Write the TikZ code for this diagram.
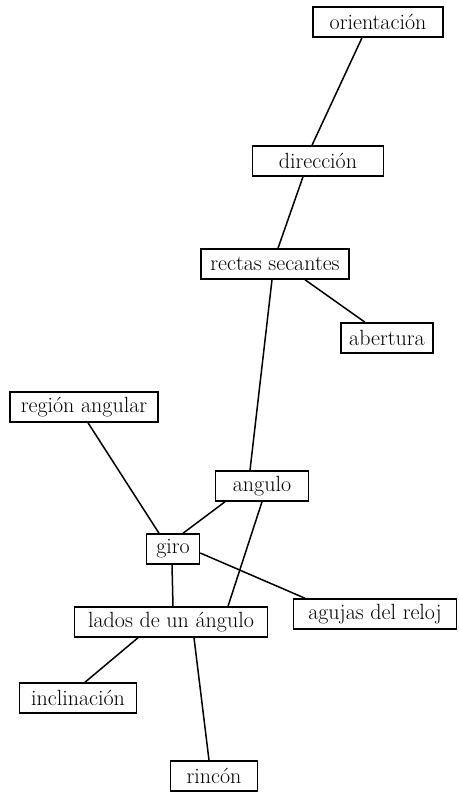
\documentclass[tikz,border=0pt]{standalone}
\usepackage{tikz}

\tikzset{
  concepto/.style={draw, line width=1.5pt, minimum height=30pt, inner xsep=8pt,
    font=\fontsize{22}{25}\selectfont},
  enlace/.style={line width=1.5pt}
}

\begin{document}
\begin{tikzpicture}[x=1pt,y=-1pt]

            \useasboundingbox (0,0) rectangle (458,792);

            % conceptos
            \node[concepto, minimum width=130pt] (orient) at (378,22) {orientación};
            \node[concepto, minimum width=131pt] (direc) at (318,161) {dirección};
            \node[concepto, minimum width=148pt] (rectas) at (275,264) {rectas secantes};
            \node[concepto, minimum width=86pt] (abert) at (387,338) {abertura};
            \node[concepto, minimum width=148pt] (region) at (84,407) {región angular};
            \node[concepto, minimum width=93pt] (angulo) at (262,486) {angulo};
            \node[concepto, minimum width=53pt] (giro) at (173,549) {giro};
            \node[concepto, minimum width=193pt] (lados) at (171,622) {lados de un ángulo};
            \node[concepto, minimum width=163pt] (agujas) at (375,614) {agujas del reloj};
            \node[concepto, minimum width=117pt] (inclin) at (78,698) {inclinación};
            \node[concepto, minimum width=87pt] (rincon) at (214,776) {rincón};

            % enlaces
            \draw[enlace] ([xshift=-16pt]orient.south) -- ([xshift=-6pt]direc.north);
            \draw[enlace] ([xshift=-15pt]direc.south) -- ([xshift=3pt]rectas.north);
            \draw[enlace] ([xshift=30pt]rectas.south) -- ([xshift=-22pt]abert.north);
            \draw[enlace] ([xshift=-3pt]rectas.south) -- ([xshift=-12pt]angulo.north);
            \draw[enlace] ([xshift=4pt]region.south) -- ([xshift=-14pt]giro.north);
            \draw[enlace] ([xshift=-37pt]angulo.south) -- ([xshift=10pt]giro.north);
            \draw[enlace] (angulo.south) -- ([xshift=57pt]lados.north);
            \draw[enlace] ([xshift=-1pt]giro.south) -- ([xshift=2pt]lados.north);
            \draw[enlace] ([yshift=-4pt]giro.east) -- ([xshift=-70pt]agujas.north);
            \draw[enlace] ([xshift=-33pt]lados.south) -- ([xshift=7pt]inclin.north);
            \draw[enlace] ([xshift=23pt]lados.south) -- ([xshift=-5pt]rincon.north);

\end{tikzpicture}
\end{document}
